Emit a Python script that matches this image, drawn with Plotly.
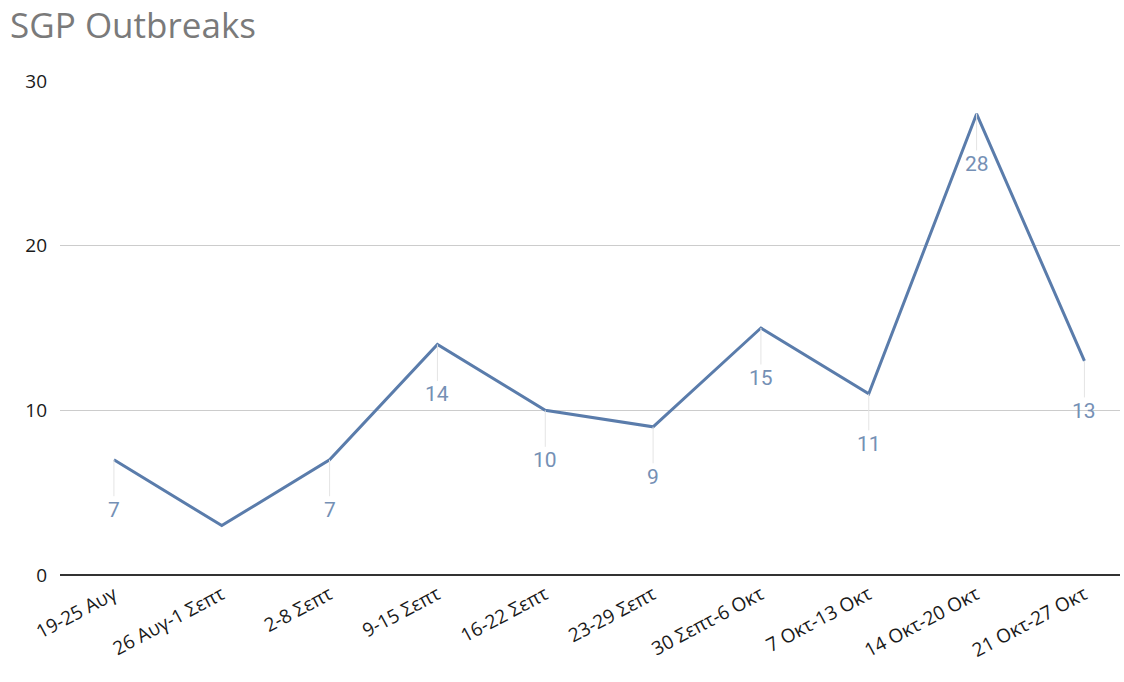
import plotly.graph_objects as go

categories = ["19-25 Αυγ", "26 Αυγ-1 Σεπτ", "2-8 Σεπτ", "9-15 Σεπτ", "16-22 Σεπτ",
              "23-29 Σεπτ", "30 Σεπτ-6 Οκτ", "7 Οκτ-13 Οκτ", "14 Οκτ-20 Οκτ", "21 Οκτ-27 Οκτ"]
outbreaks = [7, 3, 7, 14, 10, 9, 15, 11, 28, 13]
show_label = [True, False, True, True, True, True, True, True, True, True]
y_ticks = [0, 10, 20, 30]

fig = go.Figure()
fig.add_trace(go.Scatter(
    x=categories, y=outbreaks, mode="lines",
    line=dict(color="#5a7cab", width=3),
    hoverinfo="x+y", showlegend=False,
))

for c, v, s in zip(categories, outbreaks, show_label):
    if not s:
        continue
    fig.add_annotation(
        x=c, y=v, text=str(v), showarrow=True, arrowhead=0, arrowwidth=1,
        arrowcolor="#e4e4e4", ax=0, ay=50, standoff=0,
        font=dict(family="Roboto", size=21, color="#7590b5"),
    )

fig.update_layout(
    width=1124, height=682,
    margin=dict(l=60, r=4, t=81, b=107),
    paper_bgcolor="white", plot_bgcolor="white",
    title=dict(text="SGP Outbreaks", x=0.009, xanchor="left", y=0.962, yanchor="middle",
               font=dict(family="Open Sans", size=35, color="#7a7a7a")),
    xaxis=dict(
        type="category", range=[-0.5, 9.33], showgrid=False, showline=False,
        tickangle=-28, ticks="", ticklabelstandoff=4,
        tickfont=dict(family="Open Sans", size=19, color="#1a1a1a"),
        zeroline=False,
    ),
    yaxis=dict(
        range=[0, 30], tickvals=y_ticks, showgrid=True, gridcolor="#cccccc", gridwidth=1,
        zeroline=True, zerolinecolor="#333333", zerolinewidth=2,
        ticks="", ticklabelstandoff=12,
        tickfont=dict(family="Open Sans", size=19, color="#1a1a1a"),
    ),
)

fig.write_html("out.html", config={"displayModeBar": False},
               post_script="document.body.style.margin='0';")
